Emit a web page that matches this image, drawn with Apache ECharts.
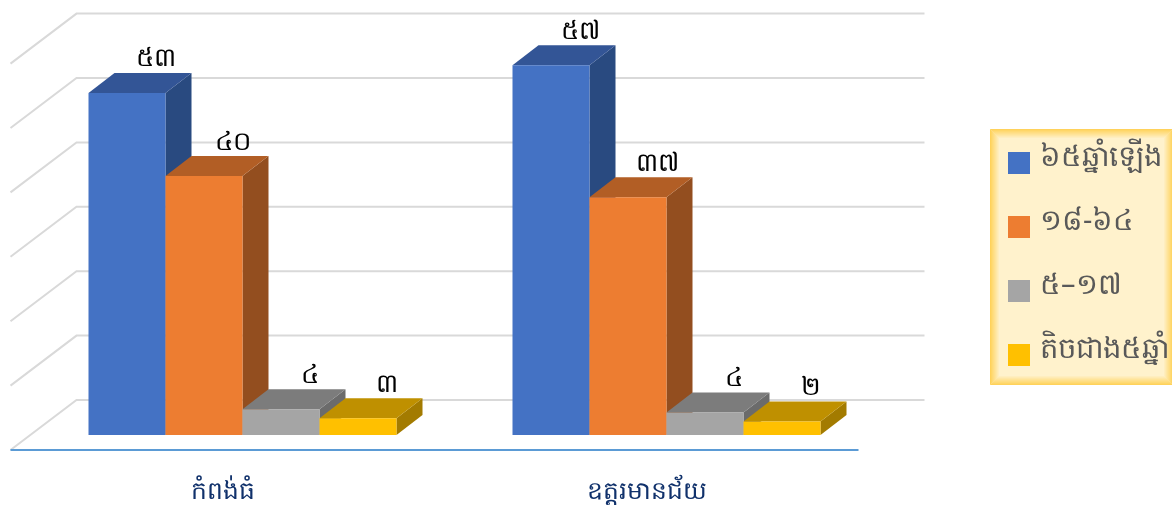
<!DOCTYPE html>
<html><head><meta charset="utf-8"><style>html,body{margin:0;padding:0;background:#fff}#c{width:1172px;height:506px}</style>
<script src="https://cdn.jsdelivr.net/npm/echarts@6/dist/echarts.min.js"></script></head><body><div id="c"></div>
<script>
var categories=['កំពង់ធំ','ឧត្តរមានជ័យ'];
var seriesNames=['៦៥ឆ្នាំឡើង','១៨-៦៤','៥–១៧','តិចជាង៥ឆ្នាំ'];
var values65plus=[53.1,57.4];
var values18to64=[40.2,36.9];
var values5to17=[4,3.5];
var valuesUnder5=[2.6,2.1];
var gridTicks=[0,10,20,30,40,50,60];
var khmerDigits=['០','១','២','៣','៤','៥','៦','៧','៨','៩'];
var faces=[['#4472c4','#335596','#294a80'],['#ed7d31','#b25e25','#934e1f'],['#a5a5a5','#7c7c7c','#6b6b6b'],['#ffc000','#bf9000','#a37b00']];
var allValues=[values65plus,values18to64,values5to17,valuesUnder5];
var DX=26,DY=-20,BAR_FRAC=77/424;
function khmer(v){return String(Math.round(v)).split('').map(function(d){return khmerDigits[+d];}).join('');}
function barRender(idx){return function(params,api){
  var base=api.coord([api.value(0),0]),top=api.coord([api.value(0),api.value(1)]);
  var w=api.size([1,0])[0]*BAR_FRAC,x0=base[0]+(idx-2)*w,x1=x0+w,yb=base[1],yt=top[1];
  var f=faces[idx];
  return {type:'group',children:[
   {type:'polygon',shape:{points:[[x1,yt],[x1+DX,yt+DY],[x1+DX,yb+DY],[x1,yb]]},style:{fill:f[2]}},
   {type:'polygon',shape:{points:[[x0,yt],[x0+DX,yt+DY],[x1+DX,yt+DY],[x1,yt]]},style:{fill:f[1]}},
   {type:'rect',shape:{x:x0,y:yt,width:w,height:yb-yt},style:{fill:f[0]}},
   {type:'text',z2:50,style:{x:(x0+x1)/2+29,y:yt+DY-14,text:khmer(api.value(1)),fill:'#000',font:'26px "Noto Sans"',textAlign:'center',textVerticalAlign:'middle'}}
  ]};
};}
function wallRender(params,api){
  var cs=params.coordSys,y=api.coord([0,api.value(0)])[1];
  return {type:'polyline',shape:{points:[[cs.x-20,y+15],[cs.x+46,y-35],[cs.x+cs.width+46,y-35]]},style:{fill:'none',stroke:'#d9d9d9',lineWidth:2}};
}
function floorRender(params,api){
  var cs=params.coordSys,y=api.coord([0,0])[1];
  return {type:'line',shape:{x1:cs.x-20,y1:y+15,x2:cs.x+cs.width-20,y2:y+15},style:{stroke:'#5b9bd5',lineWidth:2}};
}
var series=[
 {type:'custom',name:'wall',silent:true,clip:false,coordinateSystem:'cartesian2d',data:gridTicks.map(function(t){return [t];}),renderItem:wallRender,encode:{y:0}},
 {type:'custom',name:'floor',silent:true,clip:false,coordinateSystem:'cartesian2d',data:[[0]],renderItem:floorRender,encode:{y:0}}
];
seriesNames.forEach(function(n,i){
 series.push({type:'custom',name:n,clip:false,coordinateSystem:'cartesian2d',itemStyle:{color:faces[i][0]},
  data:allValues[i].map(function(v,c){return [c,v];}),encode:{x:0,y:1},renderItem:barRender(i)});
});
var glow=[{type:'rect',shape:{x:990,y:129,width:182,height:256},style:{fill:'#fff2cc'},z:0}];
for(var k=0;k<9;k++){glow.push({type:'rect',shape:{x:990.5+k,y:129.5+k,width:182-2*k,height:255-2*k},style:{fill:'none',stroke:'rgba(255,205,70,'+(0.85-k*0.095)+')',lineWidth:1},z:1});}
var chart=echarts.init(document.getElementById('c'));
chart.setOption({animation:false,
 grid:{left:30.5,width:848,top:48.6,height:386.4},
 xAxis:{type:'category',data:categories,axisLine:{show:false},axisTick:{show:false},splitLine:{show:false},
  axisLabel:{fontFamily:'Noto Sans',fontSize:25,color:'#10316b',margin:44,padding:[0,40,0,0]}},
 yAxis:{type:'value',min:0,max:60,interval:10,show:false},
 legend:{orient:'vertical',left:1008,top:143,padding:0,data:seriesNames,icon:'rect',itemWidth:22,itemHeight:22,itemGap:24,selectedMode:false,
  formatter:function(n){return n+'\n ';},
  textStyle:{color:'#595959',fontFamily:'Noto Sans',fontSize:29,lineHeight:11,padding:[0,0,0,5]}},
 graphic:glow,
 series:series});
</script></body></html>
